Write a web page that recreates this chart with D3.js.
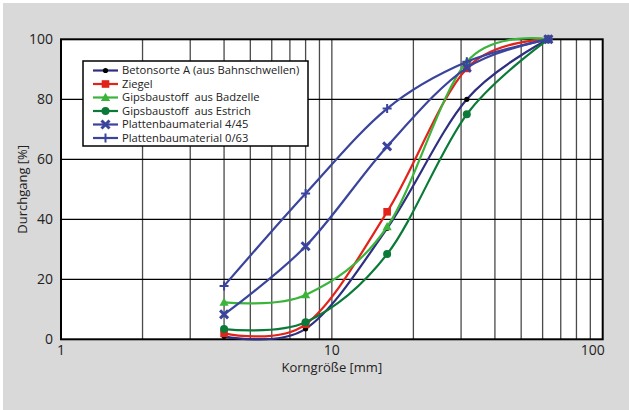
<!DOCTYPE html>
<html>
<head>
  <meta charset="utf-8">
  <script src="https://d3js.org/d3.v7.min.js"></script>
  <style>
    body { margin: 0; background: #fff; }
    .tick-label { font: 14px "Open Sans", sans-serif; fill: #222; }
    .axis-title { font: 13px "Open Sans", sans-serif; fill: #222; }
    .legend-text { font: 11.2px "Open Sans", sans-serif; fill: #222; white-space: pre; }
  </style>
</head>
<body>
  <svg width="629" height="410"></svg>
  <script>
    // sieve sizes [mm]
    var sieves = [4, 8, 16, 31.5, 63];

    var betonsorte = [1, 3.5, 37, 80, 100];
    var ziegel = [2, 5, 42.5, 90.3, 100];
    var badzelle = [12.3, 14.8, 37.5, 92.5, 100];
    var estrich = [3.4, 5.7, 28.4, 75, 100];
    var platten445 = [8.3, 31, 64.3, 90.5, 100];
    var platten063 = [17.8, 48.6, 76.9, 92.5, 100];

    var seriesNames = ["Betonsorte A (aus Bahnschwellen)", "Ziegel", "Gipsbaustoff  aus Badzelle",
                       "Gipsbaustoff  aus Estrich", "Plattenbaumaterial 4/45", "Plattenbaumaterial 0/63"];

    var yTicks = [0, 20, 40, 60, 80, 100];
    var xLabels = [1, 10, 100];

    var series = [
      {name: seriesNames[0], values: betonsorte, color: "#2e2f80", marker: "dot", markColor: "#000"},
      {name: seriesNames[1], values: ziegel, color: "#e2231a", marker: "square"},
      {name: seriesNames[2], values: badzelle, color: "#3cb43c", marker: "triangle"},
      {name: seriesNames[3], values: estrich, color: "#0b7a38", marker: "circle"},
      {name: seriesNames[4], values: platten445, color: "#3a449c", marker: "x"},
      {name: seriesNames[5], values: platten063, color: "#3a449c", marker: "plus"}
    ];

    var svg = d3.select("svg");
    var margin = {left: 61, top: 39.3, right: 26.3, bottom: 70.7};
    var width = 629 - margin.left - margin.right,
        height = 410 - margin.top - margin.bottom;

    svg.append("rect").attr("x", 3).attr("y", 3).attr("width", 626).attr("height", 407)
      .attr("fill", "#d9d9d9");

    var g = svg.append("g").attr("transform", "translate(" + margin.left + "," + margin.top + ")");

    var x = d3.scaleLog().domain([1, 100]).range([0, width]);
    var y = d3.scaleLinear().domain([0, 100]).range([height, 0]);

    g.append("rect").attr("width", width).attr("height", height).attr("fill", "#fff");

    // vertical grid lines 2..9, 10, 20..90
    var xGrid = [];
    [1, 10].forEach(function(d) { for (var k = 2; k <= 9; k++) xGrid.push(d * k); });
    xGrid.push(10);
    g.selectAll(".vgrid").data(xGrid).enter().append("line")
      .attr("x1", d => x(d)).attr("x2", d => x(d))
      .attr("y1", 0).attr("y2", height)
      .attr("stroke", "#4a4a4a").attr("stroke-width", 1.3);

    g.selectAll(".hgrid").data(yTicks.slice(1, -1)).enter().append("line")
      .attr("x1", 0).attr("x2", width)
      .attr("y1", d => y(d)).attr("y2", d => y(d))
      .attr("stroke", "#000").attr("stroke-width", 1.2);

    g.append("rect").attr("width", width).attr("height", height)
      .attr("fill", "none").attr("stroke", "#000").attr("stroke-width", 2);

    // tick labels
    g.selectAll(".ylab").data(yTicks).enter().append("text")
      .attr("class", "tick-label")
      .attr("x", -8).attr("y", d => y(d)).attr("dy", "0.36em")
      .attr("text-anchor", "end")
      .text(d => d);

    g.selectAll(".xlab").data(xLabels).enter().append("text")
      .attr("class", "tick-label")
      .attr("x", (d, i) => x(d) + (i === 2 ? -10 : 0))
      .attr("y", height + 15.5)
      .attr("text-anchor", "middle")
      .text(d => d);

    g.append("text").attr("class", "axis-title")
      .attr("x", x(10)).attr("y", height + 33)
      .attr("text-anchor", "middle")
      .text("Korngröße [mm]");

    svg.append("text").attr("class", "axis-title")
      .attr("transform", "translate(27," + (margin.top + height / 2) + ") rotate(-90)")
      .attr("text-anchor", "middle")
      .text("Durchgang [%]");

    var line = d3.line()
      .x(d => x(d[0]))
      .y(d => y(d[1]))
      .curve(d3.curveCardinal.tension(0));

    function drawMarker(sel, type, color) {
      if (type === "dot") {
        sel.append("circle").attr("r", 2.6).attr("fill", color);
      } else if (type === "square") {
        sel.append("rect").attr("x", -3.8).attr("y", -3.8).attr("width", 7.6).attr("height", 7.6).attr("fill", color);
      } else if (type === "triangle") {
        sel.append("path").attr("d", "M0,-4.8L4.6,3.4L-4.6,3.4Z").attr("fill", color);
      } else if (type === "circle") {
        sel.append("circle").attr("r", 4).attr("fill", color);
      } else if (type === "x") {
        sel.append("path").attr("d", "M-4,-4L4,4M-4,4L4,-4")
          .attr("stroke", color).attr("stroke-width", 3);
      } else if (type === "plus") {
        sel.append("path").attr("d", "M-4.5,0L4.5,0M0,-4.5L0,4.5")
          .attr("stroke", color).attr("stroke-width", 2);
      }
    }

    series.forEach(function(s) {
      var pts = sieves.map((d, i) => [d, s.values[i]]);
      g.append("path").datum(pts)
        .attr("d", line)
        .attr("fill", "none")
        .attr("stroke", s.color)
        .attr("stroke-width", 2.2);
      pts.forEach(function(p) {
        var m = g.append("g").attr("transform", "translate(" + x(p[0]) + "," + y(p[1]) + ")");
        drawMarker(m, s.marker, s.markColor || s.color);
      });
    });

    // legend
    var lg = svg.append("g").attr("transform", "translate(83,61)");
    lg.append("rect").attr("width", 225).attr("height", 85)
      .attr("fill", "#fff").attr("stroke", "#000").attr("stroke-width", 1.5);
    series.forEach(function(s, i) {
      var row = lg.append("g").attr("transform", "translate(0," + (9.5 + i * 13.5) + ")");
      row.append("line").attr("x1", 10).attr("x2", 35).attr("stroke", s.color).attr("stroke-width", 2.2);
      var m = row.append("g").attr("transform", "translate(22.5,0)");
      drawMarker(m, s.marker, s.markColor || s.color);
      row.append("text").attr("class", "legend-text")
        .attr("x", 39).attr("dy", "0.35em")
        .text(s.name);
    });
  </script>
</body>
</html>
